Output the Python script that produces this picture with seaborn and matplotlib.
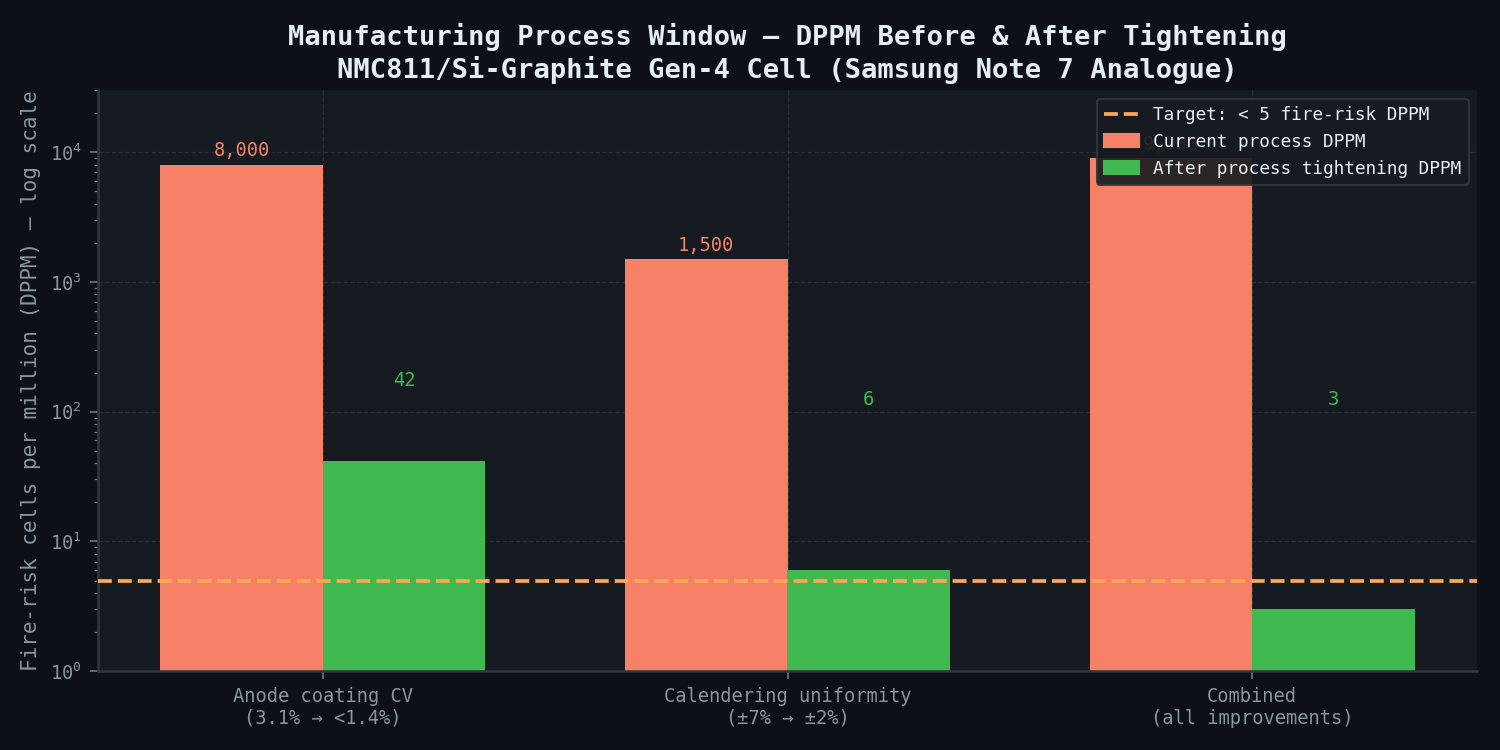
import pandas as pd
import matplotlib
matplotlib.use("Agg")
import matplotlib.pyplot as plt
from matplotlib.patches import Patch
import seaborn as sns

# data
categories = ["Anode coating CV\n(3.1% → <1.4%)",
              "Calendering uniformity\n(±7% → ±2%)",
              "Combined\n(all improvements)"]
current_dppm = [8000, 1500, 9000]
after_dppm = [42, 6, 3]
series_names = ["Current process DPPM", "After process tightening DPPM"]
target_dppm = 5

BG = "#0d1117"
PANEL = "#161b22"
EDGE = "#30363d"
TXT = "#e6edf3"
MUTED = "#8b949e"
C_CUR = "#f78166"
C_AFT = "#3fb950"
C_TGT = "#ffa657"

sns.set_theme(style="dark")
plt.rcParams["font.family"] = ["DejaVu Sans Mono", "DejaVu Sans"]

df = pd.DataFrame({
    "category": categories * 2,
    "series": [series_names[0]] * 3 + [series_names[1]] * 3,
    "dppm": current_dppm + after_dppm,
})

fig, ax = plt.subplots(figsize=(10, 5), dpi=150)
fig.patch.set_facecolor(BG)
ax.set_facecolor(PANEL)

sns.barplot(data=df, x="category", y="dppm", hue="series", hue_order=series_names,
            palette={series_names[0]: C_CUR, series_names[1]: C_AFT},
            width=0.7, saturation=1, legend=False, ax=ax, zorder=2,
            linewidth=0, edgecolor="none")
ax.set_yscale("log")
ax.set_ylim(1, 3e4)
# same margins as plain matplotlib bars
ax.set_xlim(-0.485, len(categories) - 1 + 0.485)

tline = ax.axhline(target_dppm, color=C_TGT, ls="--", lw=1.8, zorder=3,
                   label="Target: < 5 fire-risk DPPM")

# value labels
for cont, vals, col in zip(ax.containers, [current_dppm, after_dppm], [C_CUR, C_AFT]):
    for bar, v in zip(cont, vals):
        xc = bar.get_x() + bar.get_width() / 2
        if col == C_CUR:
            y = v * 1.08
        else:
            y = max(v * 3.5, 105)
        ax.text(xc, y, f"{v:,}", ha="center", va="bottom", color=col, fontsize=9, zorder=4)

ax.set_title("Manufacturing Process Window — DPPM Before & After Tightening\n"
             "NMC811/Si-Graphite Gen-4 Cell (Samsung Note 7 Analogue)",
             color=TXT, fontsize=13, fontweight="bold")
ax.set_xlabel("")
ax.set_ylabel("Fire-risk cells per million (DPPM) — log scale", color=MUTED, fontsize=10)
ax.tick_params(axis="both", which="major", colors=MUTED, labelsize=9,
               length=4, width=0.8, bottom=True, left=True)
ax.tick_params(axis="y", which="minor", colors=MUTED, length=2, width=0.6, left=True)
ax.tick_params(axis="both", which="both", color="#6e7681")
ax.grid(True, which="major", ls="--", color=EDGE, lw=0.6, alpha=0.7, zorder=0)
ax.set_axisbelow(True)
for s in ["top", "right"]:
    ax.spines[s].set_visible(False)
for s in ["left", "bottom"]:
    ax.spines[s].set_color(EDGE)

handles = [tline, Patch(color=C_CUR), Patch(color=C_AFT)]
labels = ["Target: < 5 fire-risk DPPM"] + series_names
leg = ax.legend(handles, labels, loc="upper right", fontsize=8.5, facecolor=PANEL,
                edgecolor=EDGE, labelcolor=TXT, framealpha=0.9)

fig.subplots_adjust(left=0.065, right=0.985, top=0.88, bottom=0.105)
plt.savefig("out.png", dpi=150, facecolor=BG)
